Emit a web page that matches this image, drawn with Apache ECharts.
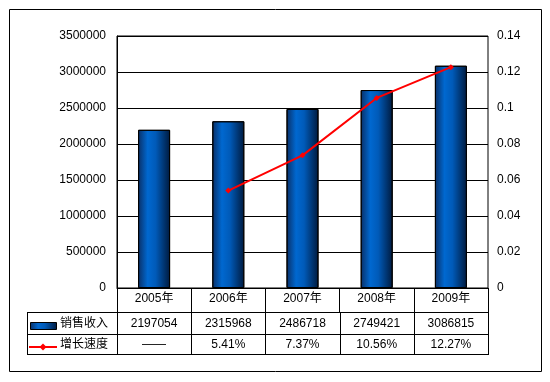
<!DOCTYPE html>
<html><head><meta charset="utf-8">
<script src="https://cdn.jsdelivr.net/npm/echarts@6/dist/echarts.min.js"></script>
<style>html,body{margin:0;padding:0;background:#fff}#c{width:550px;height:382px}</style>
</head><body><div id="c"></div>
<script>
var categories = ['2005年','2006年','2007年','2008年','2009年'];
var sales = [2197054, 2315968, 2486718, 2749421, 3086815];
var growth = [null, 0.0541, 0.0737, 0.1056, 0.1227];
var seriesNames = ['销售收入','增长速度'];

var FONT = '"Liberation Sans","Noto Sans CJK SC",Arial,sans-serif';
var chart = echarts.init(document.getElementById('c'), null, {renderer:'canvas'});
var barGrad = new echarts.graphic.LinearGradient(0,0,1,0,[
  {offset:0,color:'#0a2f66'},{offset:0.3,color:'#0068d0'},{offset:0.55,color:'#005ab8'},{offset:1,color:'#001a3e'}]);
var option = {
  animation:false,
  backgroundColor:'#fff',
  grid:{left:117,right:62,top:36,bottom:94,show:true,borderColor:'#000',borderWidth:1},
  xAxis:{type:'category',data:categories,
    axisLine:{lineStyle:{color:'#000'}},
    axisTick:{show:true,length:24,lineStyle:{color:'#000'}},
    axisLabel:{color:'#000',fontSize:12,fontFamily:FONT,margin:5}},
  yAxis:[
    {type:'value',min:0,max:3500000,interval:500000,
     axisLine:{show:true,lineStyle:{color:'#000'}},axisTick:{show:false},
     splitLine:{lineStyle:{color:'#000'}},
     axisLabel:{color:'#000',fontSize:12,fontFamily:FONT,margin:11,formatter:function(v){return String(v);}}},
    {type:'value',min:0,max:0.14,interval:0.02,
     axisLine:{show:false},axisTick:{show:false},splitLine:{show:false},
     axisLabel:{color:'#000',fontSize:12,fontFamily:FONT,margin:9,formatter:function(v){return String(+v.toFixed(2));}}}
  ],
  series:[
    {name:seriesNames[0],type:'bar',data:sales,barWidth:32,
     itemStyle:{color:barGrad,borderColor:'#000',borderWidth:1}},
    {name:seriesNames[1],type:'line',yAxisIndex:1,data:growth,
     lineStyle:{color:'#ff0000',width:2},itemStyle:{color:'#ff0000'},
     symbol:'diamond',symbolSize:6,showSymbol:true}
  ]
};
chart.setOption(option);

// table built from the data
var left = 27, gl = 117, gr = 488, y0 = 288, y1 = 312, y2 = 334, y3 = 354;
var half = (gr-gl)/categories.length/2;
var centers = categories.map(function(c){return chart.convertToPixel({xAxisIndex:0}, c);});
var g = [];
function line(x1,yA,x2,yB){g.push({type:'line',shape:{x1:x1,y1:yA,x2:x2,y2:yB},style:{stroke:'#000',lineWidth:1},z:50});}
[y1,y2,y3].forEach(function(y){line(left,y+0.5,gr+0.5,y+0.5);});
line(left+0.5,y1,left+0.5,y3+1);
line(gl+0.5,y0,gl+0.5,y3+1);
centers.forEach(function(cx){line(Math.round(cx+half)+0.5,y1,Math.round(cx+half)+0.5,y3+1);});
function txt(x,y,s,align){g.push({type:'text',x:x,y:y,style:{text:s,fill:'#000',font:'12px '+FONT,textAlign:align||'center',textVerticalAlign:'middle'},z:51});}
centers.forEach(function(cx,i){
  txt(cx,(y1+y2)/2+1,String(sales[i]));
  txt(cx,(y2+y3)/2+1,growth[i]==null?'——':(growth[i]*100).toFixed(2)+'%');
});
txt(60,(y1+y2)/2+1,seriesNames[0],'left');
txt(60,(y2+y3)/2+1,seriesNames[1],'left');
g.push({type:'rect',shape:{x:30.5,y:322.5,width:26,height:7},style:{fill:barGrad,stroke:'#000',lineWidth:1},z:51});
g.push({type:'line',shape:{x1:29,y1:347,x2:57,y2:347},style:{stroke:'#ff0000',lineWidth:2},z:51});
g.push({type:'polygon',shape:{points:[[43,343.5],[46.5,347],[43,350.5],[39.5,347]]},style:{fill:'#ff0000'},z:52});
g.push({type:'rect',shape:{x:9.5,y:9.5,width:532,height:362},style:{fill:null,stroke:'#000',lineWidth:1},z:40});
chart.setOption({graphic:g});
</script></body></html>
